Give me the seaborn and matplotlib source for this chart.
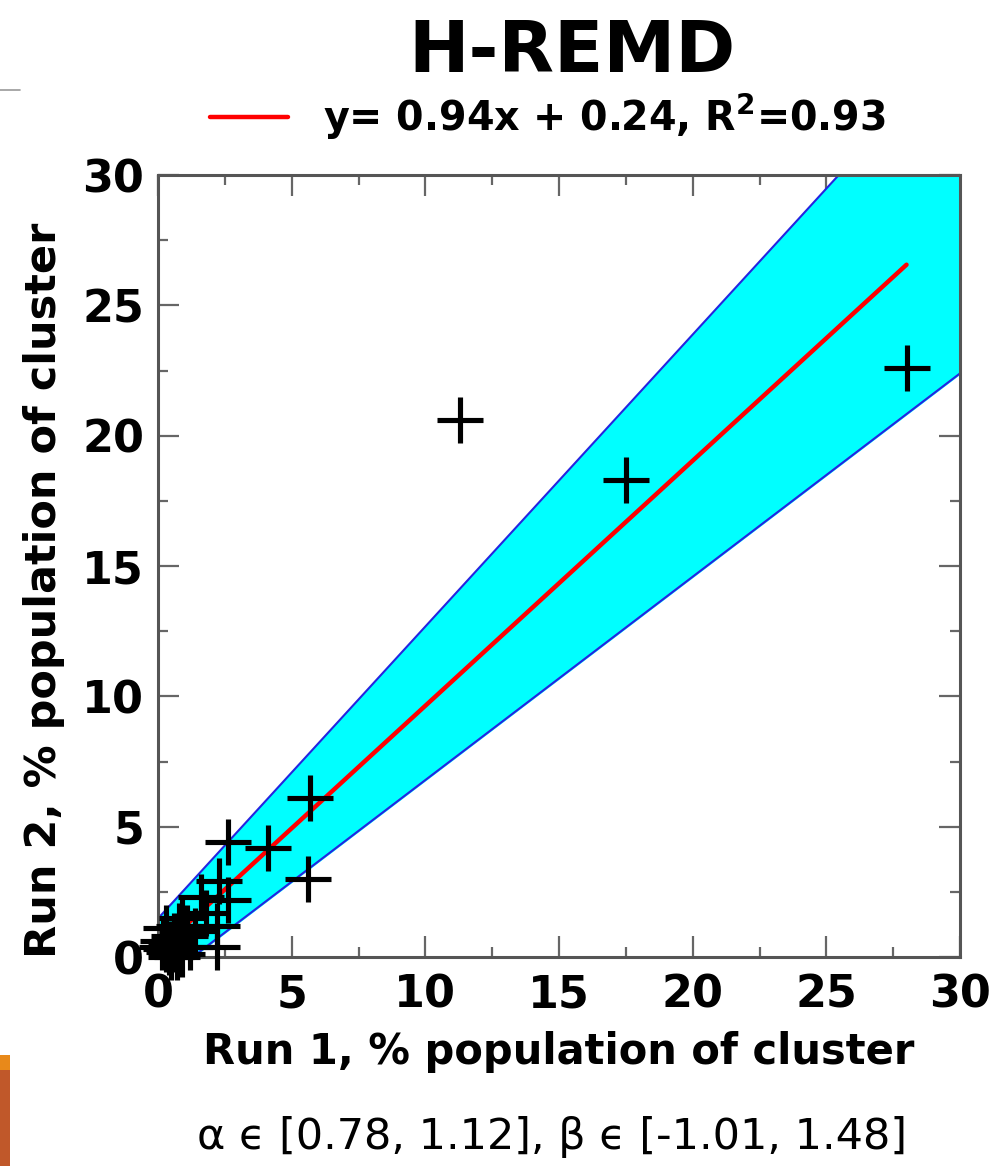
import numpy as np
import pandas as pd
import matplotlib.pyplot as plt
from matplotlib.lines import Line2D
from matplotlib.patches import Rectangle
from matplotlib.ticker import MultipleLocator
import seaborn as sns


# DATI

run1 = [28.0, 11.3, 17.5, 5.7, 4.1, 2.6, 5.6, 2.3, 2.6, 1.6, 1.8, 2.2, 2.2,
        1.4, 1.0, 0.8, 0.5, 0.3, 0.4, 0.6, 0.2, 0.7, 0.3, 1.2, 0.9,
        0.9, 1.1, 0.6, 0.15, 0.5]
run2 = [22.6, 20.6, 18.3, 6.1, 4.2, 4.4, 3.0, 2.9, 2.2, 2.3, 1.7, 1.2, 0.4,
        1.0, 0.8, 1.2, 0.5, 1.1, 0.2, 0.3, 0.6, 0.0, 0.3, 0.4, 0.1,
        1.5, 1.1, 0.8, 0.4, 0.0]

slope, intercept = 0.94, 0.24
alpha_range = [0.78, 1.12]
beta_range = [-1.01, 1.48]

title = "H-REMD"
fit_label = r"y= 0.94x + 0.24, R$^2$=0.93"
xlabel = "Run 1, % population of cluster"
ylabel = "Run 2, % population of cluster"
bottom_text = "α ϵ [0.78, 1.12], β ϵ [-1.01, 1.48]"

df = pd.DataFrame({"run1": run1, "run2": run2})

x_fit = np.array([min(run1), max(run1)])
df_fit = pd.DataFrame({"x": x_fit, "y": slope * x_fit + intercept})

x_band = np.array([0, 30])
band_low = alpha_range[0] * x_band + beta_range[0]
band_high = alpha_range[1] * x_band + beta_range[1]


# STILE

sns.set_style("white")
plt.rcParams["font.family"] = ["DejaVu Sans"]
plt.rcParams["font.weight"] = "bold"
plt.rcParams["mathtext.fontset"] = "dejavusans"
plt.rcParams["text.color"] = "black"
plt.rcParams["axes.labelcolor"] = "black"

fig = plt.figure(figsize=(9.9, 11.66), dpi=100)
ax = fig.add_axes([0.1596, 0.1792, 0.8101, 0.6707])

ax.fill_between(x_band, band_low, band_high, color="#00FFFF", zorder=1)
ax.plot(x_band, band_low, color="#2424E0", linewidth=1.5, zorder=2)
ax.plot(x_band, band_high, color="#2424E0", linewidth=1.5, zorder=2)

sns.lineplot(data=df_fit, x="x", y="y", color="#FF0000", linewidth=3.2,
             label=fit_label, ax=ax, zorder=3)

sns.scatterplot(data=df, x="run1", y="run2", marker="+", s=1050,
                color="black", linewidth=3.7, ax=ax, zorder=4, legend=False,
                clip_on=False)

ax.set_xlim(0, 30)
ax.set_ylim(0, 30)
ax.xaxis.set_major_locator(MultipleLocator(5))
ax.yaxis.set_major_locator(MultipleLocator(5))
ax.xaxis.set_minor_locator(MultipleLocator(2.5))
ax.yaxis.set_minor_locator(MultipleLocator(2.5))

ax.tick_params(which="both", direction="in", top=True, right=True,
               left=True, bottom=True, color="#666666", width=1.6,
               labelcolor="black")
ax.tick_params(which="major", length=15, labelsize=32)
ax.tick_params(which="minor", length=7.5)
ax.tick_params(axis="x", which="major", pad=11.5)
ax.tick_params(axis="y", which="major", pad=10)

for spine in ax.spines.values():
    spine.set_color("#555555")
    spine.set_linewidth(2.2)

ax.set_xlabel(xlabel, fontsize=30, fontweight="bold")
ax.set_ylabel(ylabel, fontsize=31, fontweight="bold")
ax.xaxis.set_label_coords(0.5, -0.094)
ax.yaxis.set_label_coords(-0.116, 0.469)

ax.legend(loc="lower center", bbox_to_anchor=(0.486, 1.0), frameon=False,
          fontsize=28.5, handlelength=1.97, handletextpad=0.88,
          borderaxespad=0.43)

fig.text(572 / 990, 1 - 52 / 1166, title, fontsize=52, fontweight="bold",
         ha="center", va="center")
fig.text(552 / 990, 1 - 1137 / 1166, bottom_text, fontsize=31,
         fontweight="normal", ha="center", va="center")

# bordi della slide
fig.add_artist(Line2D([0, 20 / 990], [1 - 90 / 1166] * 2, color="#999999",
                      linewidth=1.2))
fig.add_artist(Rectangle((0, 0), 10 / 990, 96 / 1166, color="#C0582A",
                         linewidth=0))
fig.add_artist(Rectangle((0, 96 / 1166), 10 / 990, 15 / 1166,
                         color="#E8891A", linewidth=0))

plt.savefig("out.png", dpi=100)
plt.close()
